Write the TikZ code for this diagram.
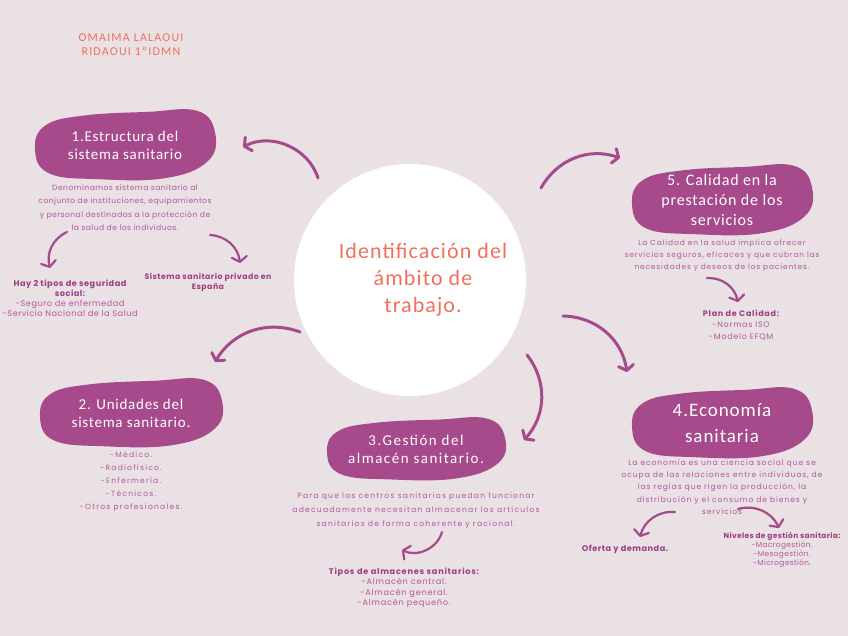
\documentclass[tikz,border=0pt]{standalone}
\usepackage{fontspec}
\setmainfont{Poppins}[LetterSpace=6]
\newfontfamily\handfont{Carlito}[LetterSpace=5]
\usetikzlibrary{arrows.meta,positioning}
\definecolor{mapbg}{RGB}{233,225,227}
\definecolor{mappurple}{RGB}{166,74,140}
\definecolor{maptext}{RGB}{180,86,158}
\definecolor{maphead}{RGB}{156,62,132}
\definecolor{mapcoral}{RGB}{240,112,94}
\tikzset{
  tblob/.style={text=white, align=center, font=\handfont\fontsize{15}{18}\selectfont},
  desc/.style={text=maptext, align=center, font=\fontsize{7.6}{13.5}\selectfont},
  dlist/.style={text=maptext, align=center, font=\addfontfeature{LetterSpace=9}\fontsize{8.2}{10.5}\selectfont},
  dhead/.style={text=maphead, align=center, font=\bfseries\fontsize{8.2}{10}\selectfont},
  marr/.style={-{Straight Barb[length=5pt,width=15pt,round]}, line width=3pt, mappurple, line cap=round},
}
\newcommand{\blob}[4]{%
  \fill[mappurple] plot[smooth cycle, tension=0.7] coordinates {({#1-1.00*#3},{#2+0.10*#4}) ({#1-0.88*#3},{#2-0.55*#4}) ({#1-0.45*#3},{#2-0.82*#4}) ({#1+0.25*#3},{#2-0.92*#4}) ({#1+0.80*#3},{#2-0.95*#4}) ({#1+1.00*#3},{#2-0.35*#4}) ({#1+0.92*#3},{#2+0.45*#4}) ({#1+0.45*#3},{#2+0.92*#4}) ({#1-0.30*#3},{#2+0.95*#4}) ({#1-0.85*#3},{#2+0.78*#4})};}

\begin{document}
\begin{tikzpicture}[x=1pt, y=-1pt]
  \fill[mapbg] (0,0) rectangle (848,636);
  \useasboundingbox (0,0) rectangle (848,636);
  \node[text=mapcoral, align=center, font=\handfont\addfontfeature{LetterSpace=10}\fontsize{12}{14}\selectfont](autora) at (131,45){OMAIMA LALAOUI\\RIDAOUI 1ºIDMN};

  \node[circle, fill=white, minimum size=232pt](hub) at (410,280){};
  \node[text=mapcoral, align=center, font=\handfont\fontsize{22}{27}\selectfont](titulo) at (423,280){Identificación del\\ámbito de\\trabajo.};

  \blob{125}{145}{90}{36}
  \node[tblob](estr) at (125,145){1.Estructura del\\sistema sanitario};
  \node[desc, below=18pt of estr](estrdesc){Denominamos sistema sanitario al\\conjunto de instituciones, equipamientos\\y personal destinados a la protección de\\la salud de los individuos.};
  \node[dlist, font=\fontsize{8.2}{10}\selectfont](seguridad) at (70,298){\textcolor{maphead}{\bfseries Hay 2 tipos de seguridad}\\\textcolor{maphead}{\bfseries social:}\\-Seguro de enfermedad\\-Servicio Nacional de la Salud};
  \node[dhead, font=\bfseries\fontsize{7.8}{10}\selectfont](privado) at (208,282){Sistema sanitario privado en\\España};

  \blob{131}{413}{91}{35}
  \node[tblob](unid) at (131,413){2. Unidades del\\sistema sanitario.};
  \node[desc, font=\addfontfeature{LetterSpace=16}\fontsize{7.6}{13}\selectfont, below=17pt of unid](uniddesc){-Médico.\\-Radiofísico.\\-Enfermería.\\-Técnicos.\\-Otros profesionales.};

  \blob{416}{449}{89}{32}
  \node[tblob, font=\handfont\addfontfeature{LetterSpace=10}\fontsize{15}{18}\selectfont](alm) at (416,449){3.Gestión del\\almacén sanitario.};
  \node[desc, font=\addfontfeature{LetterSpace=16}\fontsize{7.6}{14}\selectfont, below=22pt of alm](almdesc){Para que los centros sanitarios puedan funcionar\\adecuadamente necesitan almacenar los artículos\\sanitarios de forma coherente y racional.};
  \node[dlist](tipos) at (404,588){\textcolor{maphead}{\bfseries Tipos de almacenes sanitarios:}\\-Almacén central.\\-Almacén general.\\-Almacén pequeño.};

  \blob{722}{423}{90}{36}
  \node[tblob, font=\handfont\fontsize{19}{26}\selectfont](econ) at (722,423){4.Economía\\sanitaria};
  \node[desc, font=\addfontfeature{LetterSpace=12}\fontsize{7.6}{12.2}\selectfont, below=10pt of econ](econdesc){La economía es una ciencia social que se\\ocupa de las relaciones entre individuos, de\\las reglas que rigen la producción, la\\distribución y el consumo de bienes y\\servicios};
  \node[dhead](oferta) at (625,549){Oferta y demanda.};
  \node[dlist, font=\addfontfeature{LetterSpace=5}\fontsize{7.4}{9}\selectfont](niveles) at (782,550){\textcolor{maphead}{\bfseries Niveles de gestión sanitaria:}\\-Macrogestión.\\-Mesogestión.\\-Microgestión.};

  \blob{722}{200}{90}{36}
  \node[tblob, font=\handfont\fontsize{16}{20}\selectfont](calid) at (722,200){5. Calidad en la\\prestación de los\\servicios};
  \node[desc, font=\addfontfeature{LetterSpace=12}\fontsize{7.4}{12}\selectfont, below=7pt of calid](caliddesc){La Calidad en la salud implica ofrecer\\servicios seguros, eficaces y que cubran las\\necesidades y deseos de los pacientes.};
  \node[dlist, font=\addfontfeature{LetterSpace=9}\fontsize{8}{11.5}\selectfont](plan) at (741,325){\textcolor{maphead}{\bfseries Plan de Calidad:}\\-Normas ISO\\-Modelo EFQM};

  \coordinate (a1s) at (318,178); \coordinate (a1e) at (243,147);
  \coordinate (a2s) at (300,332); \coordinate (a2e) at (215,362);
  \coordinate (a3s) at (527,355); \coordinate (a3e) at (524,440);
  \coordinate (a4s) at (563,316); \coordinate (a4e) at (627,372);
  \coordinate (a5s) at (541,188); \coordinate (a5e) at (620,158);
  \draw[marr](a1s) to[bend right=50] (a1e);
  \draw[marr](a2s) to[bend right=40] (a2e);
  \draw[marr](a3s) to[bend left=40] (a3e);
  \draw[marr](a4s) to[bend left=40] (a4e);
  \draw[marr](a5s) to[bend left=40] (a5e);

  \coordinate (b1s) at (67,232); \coordinate (b1e) at (50,268);
  \coordinate (b2s) at (210,235); \coordinate (b2e) at (240,263);
  \coordinate (b3s) at (442,532); \coordinate (b3e) at (402,550);
  \coordinate (b4s) at (675,512); \coordinate (b4e) at (640,537);
  \coordinate (b5s) at (738,509); \coordinate (b5e) at (779,528);
  \coordinate (b6s) at (707,278); \coordinate (b6e) at (738,302);
  \draw[marr, line width=2.2pt](b1s) to[bend right=40] (b1e);
  \draw[marr, line width=2.2pt](b2s) to[bend left=40] (b2e);
  \draw[marr, line width=2.2pt](b3s) to[bend left=50] (b3e);
  \draw[marr, line width=2.2pt](b4s) to[bend right=40] (b4e);
  \draw[marr, line width=2.2pt](b5s) to[bend left=40] (b5e);
  \draw[marr, line width=2.2pt](b6s) to[bend left=40] (b6e);
\end{tikzpicture}
\end{document}
